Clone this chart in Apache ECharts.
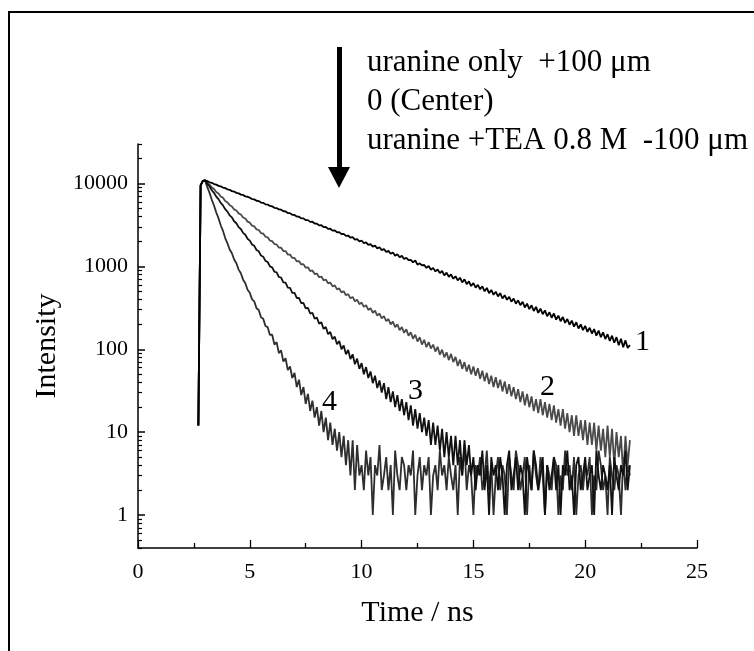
<!DOCTYPE html>
<html>
<head>
<meta charset="utf-8">
<script src="https://cdn.jsdelivr.net/npm/echarts@6/dist/echarts.min.js"></script>
<style>
html,body{margin:0;padding:0;background:#fff;}
#chart{width:754px;height:651px;}
</style>
</head>
<body>
<div id="chart"></div>
<script>
// time axis of the decay curves (ns), one channel every 0.1 ns
var time0 = 2.7;
var dt = 0.1;

// rising edge, shared by all four curves (2.7 - 2.9 ns)
var rise = [12, 9500, 10800];

// 1 : uranine only (+100 um), from 3.0 ns to 22.0 ns
var curve1 = [
	10900, 10700, 10350, 10200, 9850, 9700, 9380, 9250, 8950, 8800,
	8520, 8400, 8100, 8000, 7720, 7630, 7350, 7280, 7000, 6930,
	6750, 6500, 6440, 6200, 6150, 5900, 5850, 5620, 5580, 5360,
	5300, 5100, 5060, 4870, 4830, 4640, 4600, 4410, 4390, 4200,
	4180, 4000, 3980, 3800, 3800, 3620, 3620, 3450, 3460, 3290,
	3280, 3130, 3140, 2980, 2990, 2840, 2850, 2700, 2720, 2580,
	2590, 2450, 2470, 2330, 2360, 2220, 2250, 2110, 2140, 2010,
	2050, 1910, 1950, 1820, 1860, 1730, 1780, 1650, 1700, 1570,
	1620, 1490, 1540, 1420, 1470, 1350, 1400, 1290, 1340, 1230,
	1270, 1190, 1200, 1120, 1180, 1050, 1090, 1030, 1040, 960,
	1010, 910, 960, 870, 920, 830, 880, 780, 840, 750,
	800, 710, 760, 680, 730, 640, 700, 610, 660, 580,
	630, 555, 600, 530, 575, 500, 550, 475, 520, 455,
	495, 435, 475, 410, 450, 395, 430, 375, 410, 355,
	390, 340, 375, 320, 355, 305, 340, 290, 325, 275,
	310, 265, 295, 250, 280, 240, 270, 228, 255, 218,
	245, 208, 232, 198, 222, 188, 212, 178, 200, 170,
	192, 162, 182, 155, 175, 146, 168, 140, 160, 133,
	152, 126, 146, 120, 140, 112, 134, 106, 128, 104,
	112
];

// 2 : 0 (Center)
var curve2 = [
	10900, 10150, 9700, 8980, 8580, 7900, 7600, 6980, 6720, 6160,
	5920, 5480, 5290, 4880, 4730, 4360, 4230, 3890, 3780, 3470,
	3370, 3110, 3050, 2800, 2750, 2530, 2490, 2280, 2240, 2050,
	2020, 1860, 1840, 1690, 1680, 1530, 1530, 1390, 1390, 1265,
	1265, 1150, 1160, 1055, 1065, 965, 975, 880, 895, 810,
	820, 740, 755, 680, 695, 625, 640, 575, 590, 528,
	542, 486, 502, 448, 464, 412, 428, 380, 396, 350,
	366, 325, 340, 298, 314, 276, 292, 255, 270, 236,
	252, 218, 232, 200, 216, 185, 200, 170, 186, 158,
	174, 146, 160, 134, 150, 124, 140, 114, 130, 106,
	122, 102, 114, 94, 107, 86, 99, 80, 92, 74,
	88, 70, 81, 63, 75, 58, 70, 54, 65, 50,
	62, 48, 59, 44, 55, 41, 52, 38, 48, 35,
	46, 34, 43, 31, 41, 29, 38, 27, 35, 25,
	33, 23, 31, 21, 29, 20, 27, 18, 25, 17,
	25, 16, 23, 15, 22, 14, 21, 13, 19, 12,
	19, 11, 17, 10, 16, 9, 16, 9, 14, 8,
	14, 7, 13, 7, 13, 6, 12, 6, 11, 5,
	12, 5, 11, 4, 10, 5, 9, 3, 9, 4,
	8
];

// 3
var curve3 = [
	10900, 9900, 9200, 8300, 7720, 6960, 6490, 5840, 5450, 4900,
	4580, 4130, 3900, 3510, 3320, 2980, 2830, 2540, 2410, 2160,
	2050, 1840, 1770, 1580, 1520, 1355, 1310, 1165, 1130, 1000,
	975, 862, 845, 745, 732, 642, 636, 556, 550, 480,
	478, 416, 416, 360, 362, 312, 316, 270, 276, 234,
	242, 204, 212, 176, 186, 152, 162, 132, 142, 115,
	126, 100, 111, 87, 98, 76, 87, 66, 77, 58,
	68, 50, 61, 45, 54, 39, 48, 34, 42, 30,
	39, 25, 35, 23, 31, 20, 28, 18, 25, 16,
	23, 14, 21, 12, 19, 11, 17, 10, 15, 9,
	14, 7, 13, 7, 12, 6, 11, 5, 10, 5,
	9, 4, 9, 4, 8, 3, 8, 4, 7, 3,
	5, 2, 4, 3, 6, 2, 4, 1, 5, 3,
	4, 2, 5, 3, 1, 4, 6, 2, 3, 5,
	2, 4, 3, 1, 5, 3, 2, 6, 4, 2,
	3, 5, 1, 4, 2, 3, 5, 2, 4, 1,
	4, 3, 6, 2, 3, 1, 4, 5, 2, 3,
	5, 2, 3, 4, 1, 6, 3, 2, 4, 3,
	2, 4, 1, 5, 3, 2, 4, 3, 6, 2,
	4
];

// 4 : uranine + TEA 0.8 M (-100 um)
var curve4 = [
	10900, 9050, 7720, 6360, 5430, 4470, 3820, 3140, 2690, 2200,
	1900, 1600, 1440, 1210, 1090, 915, 826, 692, 626, 522,
	480, 400, 378, 312, 298, 244, 234, 191, 185, 149,
	150, 114, 122, 90, 97, 71, 78, 56, 62, 45,
	52, 35, 43, 28, 35, 22, 29, 18, 24, 15,
	20, 12, 18, 10, 15, 8, 13, 7, 11, 6,
	10, 5, 9, 4, 8, 3, 8, 2, 7, 3,
	4, 2, 6, 3, 5, 1, 4, 3, 7, 2,
	3, 5, 2, 4, 1, 6, 3, 2, 5, 4,
	2, 4, 3, 6, 1, 3, 5, 2, 4, 3,
	5, 1, 3, 4, 2, 6, 3, 4, 2, 5,
	3, 2, 4, 1, 5, 3, 7, 2, 4, 3,
	1, 4, 3, 5, 2, 3, 6, 2, 4, 1,
	3, 5, 2, 4, 3, 1, 5, 3, 2, 6,
	4, 2, 3, 5, 1, 4, 2, 6, 3, 2,
	5, 3, 1, 4, 3, 2, 5, 4, 1, 3,
	2, 6, 3, 4, 2, 5, 1, 3, 4, 2,
	4, 3, 5, 1, 3, 2, 6, 4, 2, 3,
	1, 5, 3, 2, 4, 3, 1, 5, 2, 4,
	3
];

// axis ticks of the log axis
var yMajor = [1, 10, 100, 1000, 10000];
var yMinor = [];
[0.1, 1, 10, 100, 1000, 10000].forEach(function(d){
	for(var m = 2; m <= 9; m++){
		var v = Math.round(m * d * 10) / 10;
		if(v >= 0.4 && v <= 30000) yMinor.push(v);
	}
});

var legendText = ['uranine only  +100 \u03bcm', '0 (Center)', 'uranine +TEA 0.8 M  -100 \u03bcm'];
var curveNames = ['1', '2', '3', '4'];

function toPoints(vals){
	var all = rise.concat(vals);
	var pts = [];
	for(var i = 0; i < all.length; i++){
		pts.push([Math.round((time0 + i * dt) * 10) / 10, all[i]]);
	}
	return pts;
}

var font = 'Liberation Serif';
var chart = echarts.init(document.getElementById('chart'));

function lineSeries(name, vals, color){
	return {
		name: name,
		type: 'line',
		data: toPoints(vals),
		showSymbol: false,
		symbol: 'none',
		lineStyle: {color: color, width: 1.8},
		animation: false,
		silent: true
	};
}

var option = {
	backgroundColor: '#fff',
	animation: false,
	grid: {left: 138, right: 57, top: 144, bottom: 103},
	xAxis: {
		type: 'value',
		min: 0,
		max: 25,
		interval: 5,
		name: 'Time / ns',
		nameLocation: 'middle',
		nameGap: 50,
		nameTextStyle: {fontFamily: font, fontSize: 30, color: '#000'},
		axisLine: {lineStyle: {color: '#000', width: 1.5}},
		axisTick: {inside: true, length: 8, lineStyle: {color: '#000', width: 1.3}},
		minorTick: {show: true, splitNumber: 2, length: 5, lineStyle: {color: '#000', width: 1.3}},
		axisLabel: {fontFamily: font, fontSize: 22, color: '#000', margin: 13},
		splitLine: {show: false},
		minorSplitLine: {show: false}
	},
	yAxis: [{
		type: 'log',
		logBase: 10,
		min: 0.4,
		max: 30000,
		position: 'left',
		name: 'Intensity',
		nameLocation: 'middle',
		nameRotate: 90,
		nameGap: 68,
		nameTextStyle: {fontFamily: font, fontSize: 30, color: '#000'},
		axisLine: {show: true, lineStyle: {color: '#000', width: 1.5}},
		axisTick: {show: true, inside: true, length: 7, customValues: yMajor, lineStyle: {color: '#000', width: 1.5}},
		axisLabel: {
			fontFamily: font, fontSize: 22, color: '#000', margin: 10,
			customValues: yMajor,
			formatter: function(v){ return String(Math.round(v)); }
		},
		splitLine: {show: false}
	}, {
		// second copy of the same scale, only for the minor ticks
		type: 'log',
		logBase: 10,
		min: 0.4,
		max: 30000,
		position: 'left',
		offset: 0,
		axisLine: {show: false},
		axisTick: {show: true, inside: true, length: 4, customValues: yMinor, lineStyle: {color: '#000', width: 1.2}},
		axisLabel: {show: false, customValues: yMinor},
		splitLine: {show: false}
	}],
	graphic: [
		{type: 'rect', shape: {x: 9, y: 12, width: 800, height: 700}, style: {fill: 'none', stroke: '#000', lineWidth: 2}, silent: true},
		{type: 'rect', shape: {x: 337, y: 47, width: 5, height: 122}, style: {fill: '#000'}, silent: true},
		{type: 'polygon', shape: {points: [[328, 167], [350, 167], [339, 188]]}, style: {fill: '#000'}, silent: true},
		{type: 'text', left: 367, top: 47, style: {text: legendText[0], font: '31px "' + font + '"', fill: '#000'}},
		{type: 'text', left: 367, top: 86, style: {text: legendText[1], font: '31px "' + font + '"', fill: '#000'}},
		{type: 'text', left: 367, top: 125, style: {text: legendText[2], font: '31px "' + font + '"', fill: '#000'}},
		{type: 'text', left: 635, top: 327, style: {text: curveNames[0], font: '30px "' + font + '"', fill: '#000'}},
		{type: 'text', left: 540, top: 372, style: {text: curveNames[1], font: '30px "' + font + '"', fill: '#000'}},
		{type: 'text', left: 408, top: 376, style: {text: curveNames[2], font: '30px "' + font + '"', fill: '#000'}},
		{type: 'text', left: 322, top: 387, style: {text: curveNames[3], font: '30px "' + font + '"', fill: '#000'}}
	],
	series: [
		lineSeries('4', curve4, '#2e2e2e'),
		lineSeries('2', curve2, '#4a4a4a'),
		lineSeries('3', curve3, '#111111'),
		lineSeries('1', curve1, '#000000')
	]
};

chart.setOption(option);
</script>
</body>
</html>
